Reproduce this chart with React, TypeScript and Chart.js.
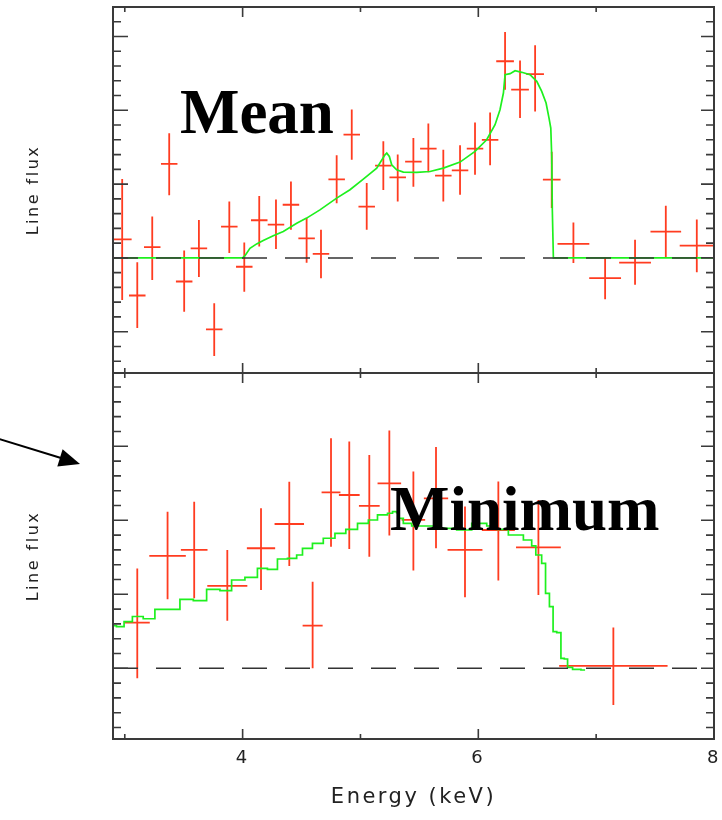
import { useEffect, useRef } from "react";
import { Chart, registerables } from "chart.js";

Chart.register(...registerables);

// Energy axis (keV)
const energyMin = 2.9;
const energyMax = 8.0;
const energyMajorTicks = [4, 6, 8];
const energyMinorTicks = [3, 5, 7];

// Line-flux axis ranges, one unit per major tick
const meanFluxRange = [-1.56, 3.4];
const minFluxRange = [-0.955, 3.99];

// Mean state: binned line flux with errors
const meanEnergy = [2.978, 3.106, 3.233, 3.377, 3.504, 3.629, 3.759, 3.887, 4.014, 4.141, 4.283, 4.41, 4.543, 4.665, 4.798, 4.926, 5.053, 5.194, 5.316, 5.449, 5.576, 5.703, 5.845, 5.972, 6.1, 6.227, 6.354, 6.482, 6.623, 6.807, 7.076, 7.33, 7.591, 7.854];
const meanHalfWidth = [0.08, 0.07, 0.07, 0.07, 0.07, 0.07, 0.07, 0.07, 0.07, 0.07, 0.07, 0.07, 0.07, 0.07, 0.07, 0.07, 0.07, 0.07, 0.07, 0.07, 0.07, 0.07, 0.07, 0.07, 0.07, 0.075, 0.075, 0.075, 0.075, 0.135, 0.135, 0.135, 0.13, 0.145];
const meanFlux = [0.25, -0.51, 0.145, 1.275, -0.32, 0.13, -0.97, 0.425, -0.12, 0.51, 0.45, 0.72, 0.265, 0.055, 1.065, 1.67, 0.695, 1.25, 1.09, 1.305, 1.48, 1.115, 1.185, 1.48, 1.6, 2.665, 2.28, 2.49, 1.06, 0.19, -0.275, -0.065, 0.355, 0.165];
const meanFluxLow = [-0.57, -0.95, -0.3, 0.85, -0.73, -0.26, -1.33, 0.065, -0.46, 0.155, 0.12, 0.38, -0.065, -0.275, 0.74, 1.33, 0.38, 0.92, 0.765, 0.965, 1.16, 0.765, 0.855, 1.125, 1.255, 2.28, 1.895, 1.985, 0.675, -0.07, -0.56, -0.365, 0.0, -0.195];
const meanFluxHigh = [1.07, -0.06, 0.56, 1.69, 0.1, 0.515, -0.615, 0.765, 0.21, 0.84, 0.79, 1.035, 0.54, 0.38, 1.39, 2.01, 1.015, 1.58, 1.4, 1.625, 1.82, 1.465, 1.525, 1.835, 1.97, 3.06, 2.675, 2.88, 1.44, 0.48, 0.01, 0.245, 0.705, 0.52];

// Mean state: line model
const meanModelEnergy = [2.9, 4.0, 4.02, 4.062, 4.119, 4.175, 4.26, 4.345, 4.459, 4.543, 4.656, 4.798, 4.911, 5.024, 5.138, 5.208, 5.223, 5.245, 5.265, 5.307, 5.364, 5.477, 5.59, 5.703, 5.845, 5.972, 6.071, 6.142, 6.184, 6.213, 6.227, 6.27, 6.312, 6.369, 6.439, 6.496, 6.538, 6.575, 6.6, 6.615, 6.623, 6.628, 6.637, 8.0];
const meanModelFlux = [0, 0, 0.03, 0.13, 0.19, 0.235, 0.3, 0.357, 0.47, 0.539, 0.651, 0.81, 0.923, 1.067, 1.217, 1.397, 1.42, 1.375, 1.262, 1.194, 1.163, 1.158, 1.171, 1.217, 1.298, 1.443, 1.601, 1.805, 2.008, 2.234, 2.483, 2.497, 2.537, 2.515, 2.483, 2.393, 2.257, 2.099, 1.895, 1.759, 1.375, 0.651, 0, 0];

// Minimum state: binned line flux with errors
const minEnergy = [3.106, 3.363, 3.589, 3.87, 4.156, 4.396, 4.594, 4.75, 4.905, 5.075, 5.245, 5.449, 5.641, 5.887, 6.17, 6.51, 7.146];
const minHalfWidth = [0.106, 0.155, 0.113, 0.17, 0.12, 0.125, 0.085, 0.08, 0.088, 0.088, 0.1, 0.1, 0.103, 0.148, 0.14, 0.19, 0.46];
const minFlux = [0.617, 1.518, 1.599, 1.113, 1.622, 1.95, 0.577, 2.378, 2.342, 2.194, 2.5, 2.005, 2.297, 1.599, 1.869, 1.635, 0.032];
const minFluxLow = [-0.135, 0.932, 0.946, 0.644, 1.059, 1.383, 0.0, 1.644, 1.613, 1.509, 1.793, 1.32, 1.622, 0.959, 1.185, 0.991, -0.495];
const minFluxHigh = [1.35, 2.117, 2.252, 1.599, 2.162, 2.52, 1.171, 3.108, 3.063, 2.883, 3.212, 2.658, 2.99, 2.185, 2.523, 2.275, 0.55];

// Minimum state: line model
const minModelEnergy = [2.9, 2.959, 3.029, 3.1, 3.213, 3.298, 3.411, 3.525, 3.638, 3.751, 3.864, 3.949, 4.09, 4.161, 4.26, 4.331, 4.43, 4.487, 4.529, 4.656, 4.713, 4.854, 4.897, 5.053, 5.081, 5.208, 5.251, 5.293, 5.321, 5.335, 5.392, 5.477, 5.76, 5.873, 6.015, 6.128, 6.184, 6.326, 6.439, 6.467, 6.509, 6.566, 6.575, 6.632, 6.637, 6.694, 6.708, 6.751, 6.764, 6.836, 6.906];
const minModelFlux = [0.576, 0.562, 0.63, 0.7, 0.67, 0.797, 0.797, 0.932, 0.914, 1.067, 1.049, 1.193, 1.229, 1.351, 1.338, 1.477, 1.486, 1.531, 1.621, 1.689, 1.757, 1.824, 1.878, 1.959, 2.004, 2.072, 2.095, 2.117, 2.103, 2.027, 1.959, 1.923, 1.892, 1.869, 1.959, 1.923, 1.878, 1.801, 1.734, 1.653, 1.531, 1.419, 1.013, 0.833, 0.495, 0.481, 0.135, 0.126, 0.014, -0.014, -0.023];

// Panel captions, anchored in data coordinates
const panelCaptions = [
  { text: "Mean", energy: 3.468, flux: 1.696, axis: "yTop" },
  { text: "Minimum", energy: 5.251, flux: 1.869, axis: "yBot" },
];

const DATA_RED = "#ff3c20";
const MODEL_GREEN = "#1ef01e";
const AXIS_GREY = "#3a3a3a";
const TEXT_FONT = "'DejaVu Sans', sans-serif";

const toCrosses = (e: number[], hw: number[], y: number[], lo: number[], hi: number[]) =>
  e.map((x, i) => ({ x, y: y[i], xMin: x - hw[i], xMax: x + hw[i], yMin: lo[i], yMax: hi[i] }));
const toLine = (e: number[], f: number[]) => e.map((x, i) => ({ x, y: f[i] }));

// Wide letter spacing for the axis lettering
const axisLettering = {
  id: "axisLettering",
  beforeUpdate(chart: any) {
    chart.ctx.letterSpacing = "2.5px";
  },
  beforeDraw(chart: any) {
    chart.ctx.letterSpacing = "2.5px";
  },
};

// Error-bar crosses, drawn beneath the model and zero lines
const errorCrosses = {
  id: "errorCrosses",
  beforeDatasetsDraw(chart: any) {
    const { ctx, chartArea, scales } = chart;
    ctx.save();
    ctx.beginPath();
    ctx.rect(chartArea.left, chartArea.top, chartArea.right - chartArea.left, chartArea.bottom - chartArea.top);
    ctx.clip();
    chart.data.datasets.forEach((ds: any) => {
      if (!ds.errorBars) return;
      const xs = scales.x;
      const ys = scales[ds.yAxisID];
      ctx.strokeStyle = ds.errorBarColor;
      ctx.lineWidth = 1.8;
      ds.data.forEach((p: any) => {
        const px = xs.getPixelForValue(p.x);
        const py = ys.getPixelForValue(p.y);
        ctx.beginPath();
        ctx.moveTo(xs.getPixelForValue(p.xMin), py);
        ctx.lineTo(xs.getPixelForValue(p.xMax), py);
        ctx.moveTo(px, ys.getPixelForValue(p.yMin));
        ctx.lineTo(px, ys.getPixelForValue(p.yMax));
        ctx.stroke();
      });
    });
    ctx.restore();
  },
};

// Panel frames with inward ticks on all four sides, plus the panel captions
const panelFrames = {
  id: "panelFrames",
  afterDatasetsDraw(chart: any) {
    const { ctx, chartArea, scales } = chart;
    const xs = scales.x;
    const left = chartArea.left;
    const right = chartArea.right;
    ctx.save();
    ctx.strokeStyle = AXIS_GREY;
    ["yTop", "yBot"].forEach((id) => {
      const ys = scales[id];
      const top = ys.top;
      const bottom = ys.bottom;
      ctx.lineWidth = 2;
      ctx.strokeRect(left, top, right - left, bottom - top);
      ctx.lineWidth = 1.6;
      ctx.beginPath();
      const kMin = Math.ceil(ys.min * 5);
      const kMax = Math.floor(ys.max * 5);
      for (let k = kMin; k <= kMax; k++) {
        const py = ys.getPixelForValue(k / 5);
        const major = k % 5 === 0;
        ctx.moveTo(left, py);
        ctx.lineTo(left + (major ? 15 : 8), py);
        ctx.moveTo(right, py);
        ctx.lineTo(right - (major ? 13 : 8), py);
      }
      const xTicks = [
        ...energyMajorTicks.map((v) => ({ v, len: 10 })),
        ...energyMinorTicks.map((v) => ({ v, len: 5 })),
      ];
      xTicks.forEach(({ v, len }) => {
        const px = xs.getPixelForValue(v);
        ctx.moveTo(px, top);
        ctx.lineTo(px, top + len);
        ctx.moveTo(px, bottom);
        ctx.lineTo(px, bottom - len);
      });
      ctx.stroke();
    });
    ctx.restore();
  },
  afterDraw(chart: any) {
    const { ctx, scales } = chart;
    ctx.save();
    ctx.letterSpacing = "0px";
    ctx.fillStyle = "#000";
    ctx.font = "bold 63px 'Liberation Serif', serif";
    ctx.textAlign = "left";
    ctx.textBaseline = "alphabetic";
    panelCaptions.forEach((c) => {
      ctx.fillText(c.text, scales.x.getPixelForValue(c.energy), scales[c.axis].getPixelForValue(c.flux));
    });
    ctx.restore();
  },
};

export default function App() {
  const canvasRef = useRef<HTMLCanvasElement>(null);

  useEffect(() => {
    const canvas = canvasRef.current;
    if (!canvas) return;

    const zeroLine = (axis: string) => ({
      type: "scatter" as const,
      data: [
        { x: energyMin, y: 0 },
        { x: energyMax, y: 0 },
      ],
      yAxisID: axis,
      showLine: true,
      borderColor: "#333333",
      borderWidth: 1.5,
      borderDash: [25, 18],
      pointRadius: 0,
      order: 0,
    });

    const yAxis = (range: number[], weight: number) => ({
      type: "linear" as const,
      position: "left" as const,
      stack: "flux",
      stackWeight: 1,
      weight,
      min: range[0],
      max: range[1],
      grid: { display: false, drawTicks: false },
      border: { display: false },
      ticks: { display: false },
      title: {
        display: true,
        text: "Line flux",
        color: "#222",
        font: { family: TEXT_FONT, size: 16, lineHeight: 1.2 },
        padding: { top: 24, bottom: 0 },
      },
      afterFit: (scale: any) => {
        scale.width = 113;
      },
    });

    const chart = new Chart(canvas, {
      type: "scatter",
      data: {
        datasets: [
          zeroLine("yTop"),
          zeroLine("yBot"),
          {
            data: toLine(meanModelEnergy, meanModelFlux),
            yAxisID: "yTop",
            showLine: true,
            borderColor: MODEL_GREEN,
            borderWidth: 1.7,
            pointRadius: 0,
            order: 1,
          },
          {
            data: toLine(minModelEnergy, minModelFlux),
            yAxisID: "yBot",
            showLine: true,
            stepped: "middle",
            borderColor: MODEL_GREEN,
            borderWidth: 1.7,
            pointRadius: 0,
            order: 1,
          },
          {
            data: toCrosses(meanEnergy, meanHalfWidth, meanFlux, meanFluxLow, meanFluxHigh),
            yAxisID: "yTop",
            pointRadius: 0,
            errorBars: true,
            errorBarColor: DATA_RED,
            order: 2,
          } as any,
          {
            data: toCrosses(minEnergy, minHalfWidth, minFlux, minFluxLow, minFluxHigh),
            yAxisID: "yBot",
            pointRadius: 0,
            errorBars: true,
            errorBarColor: DATA_RED,
            order: 2,
          } as any,
        ],
      },
      options: {
        responsive: false,
        animation: false,
        devicePixelRatio: 1,
        layout: { padding: { top: 7, right: 8, left: 0, bottom: 0 } },
        plugins: { legend: { display: false }, tooltip: { enabled: false } },
        scales: {
          x: {
            type: "linear",
            position: "bottom",
            min: energyMin,
            max: energyMax,
            grid: { display: false, drawTicks: false },
            border: { display: false },
            afterBuildTicks: (scale: any) => {
              scale.ticks = energyMajorTicks.map((v) => ({ value: v }));
            },
            ticks: {
              autoSkip: false,
              maxRotation: 0,
              padding: 9,
              color: "#222",
              font: { family: TEXT_FONT, size: 18, lineHeight: 1.2 },
              callback: (v: any) => String(v),
            },
            title: {
              display: true,
              text: "Energy (keV)",
              color: "#222",
              font: { family: TEXT_FONT, size: 21, lineHeight: 1.2 },
              padding: { top: 0, bottom: 10 },
            },
            afterFit: (scale: any) => {
              scale.height = 81;
              scale.paddingLeft = 0;
              scale.paddingRight = 0;
            },
          },
          yTop: yAxis(meanFluxRange, 1),
          yBot: yAxis(minFluxRange, 0),
        },
      } as any,
      plugins: [axisLettering, errorCrosses, panelFrames],
    });

    return () => chart.destroy();
  }, []);

  return (
    <div style={{ position: "fixed", left: 0, top: 0, width: 722, height: 820, background: "#fff" }}>
      <canvas ref={canvasRef} width={722} height={820} style={{ display: "block", width: 722, height: 820 }} />
      <svg
        width={722}
        height={820}
        style={{ position: "absolute", left: 0, top: 0, pointerEvents: "none" }}
      >
        <line x1={-2} y1={438.7} x2={61} y2={458} stroke="#000" strokeWidth={2} />
        <polygon points="80,464 57.3,466.5 62.6,449.2" fill="#000" />
      </svg>
    </div>
  );
}
